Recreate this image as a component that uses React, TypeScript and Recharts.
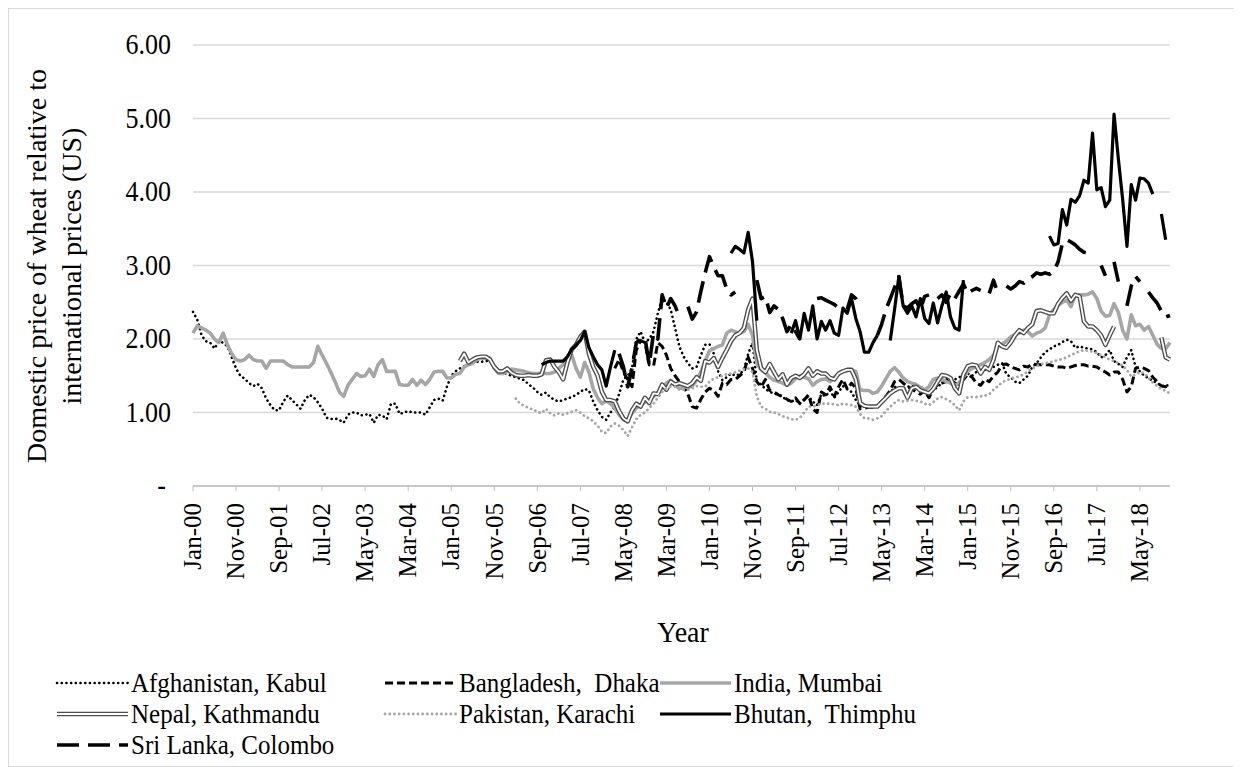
import React from 'react';
import { LineChart, Line, XAxis, YAxis, CartesianGrid } from 'recharts';

const n = null;
const MONTHS = ['Jan', 'Feb', 'Mar', 'Apr', 'May', 'Jun', 'Jul', 'Aug', 'Sep', 'Oct', 'Nov', 'Dec'];
const YEARS = ['00', '01', '02', '03', '04', '05', '06', '07', '08', '09', '10', '11', '12', '13', '14', '15', '16', '17', '18'];
const categories = YEARS.flatMap((y) => MONTHS.map((m) => `${m}-${y}`));
const yTicks = [0, 1, 2, 3, 4, 5, 6];

const afghanistan = [
  2.37, 2.26, 2.05, 1.97, 1.95, 1.87, 1.97, 1.95, 1.90, 1.75, 1.60, 1.50,
  1.46, 1.40, 1.36, 1.39, 1.33, 1.19, 1.10, 1.03, 1.03, 1.15, 1.23, 1.17,
  1.11, 1.05, 1.17, 1.24, 1.21, 1.14, 1.05, 0.93, 0.91, 0.92, 0.90, 0.86,
  0.97, 1.00, 1.00, 0.96, 0.97, 0.98, 0.86, 0.97, 0.96, 0.91, 1.12, 1.12,
  0.98, 1.00, 1.02, 1.00, 1.00, 1.00, 0.97, 1.07, 1.17, 1.19, 1.16, 1.35,
  1.50, 1.56, 1.60, 1.63, 1.66, 1.68, 1.69, 1.69, 1.70, 1.70, 1.62, 1.58,
  1.55, 1.52, 1.50, 1.48, 1.46, 1.44, 1.38, 1.34, 1.28, 1.24, 1.27, 1.21,
  1.17, 1.15, 1.17, 1.19, 1.21, 1.24, 1.28, 1.32, 1.30, 1.15, 1.03, 0.94,
  0.90, 1.00, 1.08, 1.25, 1.45, 1.50, 1.60, 2.00, 2.10, 1.95, 2.00, 2.10,
  2.35, 2.55, 2.50, 2.40, 2.15, 1.90, 1.76, 1.67, 1.60, 1.62, 1.78, 1.92,
  1.93, 1.80, 1.56, 1.44, 1.48, 1.53, 1.50, 1.52, 1.58, 1.80, 1.95, 1.42,
  1.38, 1.32, 1.28, 1.26, 1.24, 1.21, 1.17, 1.15, 1.17, 1.12, 1.18, 1.22,
  1.15, 1.10, 1.25, 1.22, 1.30, 1.20, 1.28, 1.36, 1.32, 1.28, 1.17, 1.10,
  1.08, 1.08, 1.08, 1.08, 1.15, 1.22, 1.26, 1.35, 1.33, 1.32, 1.35, 1.36,
  1.36, 1.36, 1.30, 1.25, 1.30, 1.35, 1.40, 1.45, 1.47, 1.45, 1.48, 1.50,
  1.53, 1.50, 1.55, 1.58, 1.58, 1.60, 1.62, 1.65, 1.67, 1.52, 1.48, 1.42,
  1.40, 1.45, 1.50, 1.62, 1.67, 1.75, 1.82, 1.86, 1.90, 1.92, 1.96, 1.99,
  1.97, 1.88, 1.90, 1.88, 1.87, 1.86, 1.82, 1.75, 1.78, 1.85, 1.70, 1.66,
  1.62, 1.75, 1.85, 1.62, 1.56, 1.50, 1.47, 1.43, 1.40, 1.37, 1.35, 1.40,
];

const bangladesh = [
  n, n, n, n, n, n, n, n, n, n, n, n,
  n, n, n, n, n, n, n, n, n, n, n, n,
  n, n, n, n, n, n, n, n, n, n, n, n,
  n, n, n, n, n, n, n, n, n, n, n, n,
  n, n, n, n, n, n, n, n, n, n, n, n,
  n, n, n, n, n, n, n, n, n, n, n, n,
  n, n, n, n, n, n, n, n, n, n, n, n,
  n, n, n, n, n, n, n, n, n, n, n, n,
  n, n, 1.60, 1.72, 1.55, 1.45, 1.35, 1.85, 1.98, 1.95, 1.65, 1.63,
  1.95, 1.90, 1.78, 1.60, 1.50, 1.42, 1.35, 1.25, 1.08, 1.06, 1.18, 1.28,
  1.33, 1.30, 1.22, 1.40, 1.38, 1.45, 1.45, 1.50, 1.55, 1.75, 1.60, 1.42,
  1.35, 1.45, 1.30, 1.28, 1.24, 1.22, 1.18, 1.15, 1.20, 1.12, 1.17, 1.24,
  1.05, 1.00, 1.28, 1.24, 1.35, 1.22, 1.35, 1.45, 1.32, 1.40, 1.33, 1.05,
  1.06, 1.07, 1.07, 1.08, 1.15, 1.22, 1.30, 1.42, 1.45, 1.40, 1.35, 1.32,
  1.28, 1.25, 1.30, 1.20, 1.32, 1.38, 1.40, 1.42, 1.45, 1.40, 1.38, 1.45,
  1.52, 1.48, 1.40, 1.37, 1.45, 1.42, 1.50, 1.55, 1.65, 1.66, 1.62, 1.60,
  1.58, 1.63, 1.62, 1.66, 1.65, 1.65, 1.65, 1.65, 1.63, 1.62, 1.62, 1.60,
  1.62, 1.64, 1.65, 1.65, 1.63, 1.63, 1.62, 1.58, 1.55, 1.51, 1.55, 1.55,
  1.45, 1.28, 1.35, 1.60, 1.62, 1.60, 1.57, 1.48, 1.42, 1.36, 1.35, 1.38,
];

const india = [
  2.08, 2.18, 2.15, 2.12, 2.08, 2.00, 1.95, 2.08, 1.92, 1.80, 1.72, 1.70,
  1.72, 1.78, 1.72, 1.70, 1.70, 1.60, 1.70, 1.70, 1.70, 1.70, 1.65, 1.62,
  1.62, 1.62, 1.62, 1.62, 1.68, 1.90, 1.78, 1.67, 1.55, 1.42, 1.28, 1.22,
  1.37, 1.45, 1.53, 1.49, 1.50, 1.59, 1.49, 1.65, 1.72, 1.56, 1.56, 1.56,
  1.38, 1.37, 1.37, 1.45, 1.37, 1.44, 1.38, 1.45, 1.55, 1.56, 1.56, 1.47,
  1.47, 1.52, 1.53, 1.62, 1.65, 1.67, 1.72, 1.74, 1.74, 1.74, 1.60, 1.53,
  1.53, 1.56, 1.59, 1.58, 1.57, 1.56, 1.54, 1.53, 1.53, 1.53, 1.53, 1.53,
  1.55, 1.60, 1.65, 1.72, 1.78, 1.60, 1.48, 1.68, 1.55, 1.32, 1.20, 1.12,
  1.16, 1.12, 1.06, 0.97, 0.90, 0.90, 0.99, 1.06, 1.10, 1.14, 1.17, 1.22,
  1.27, 1.34, 1.40, 1.44, 1.38, 1.32, 1.35, 1.34, 1.36, 1.44, 1.55, 1.70,
  1.84, 1.87, 1.90, 1.92, 2.08, 2.12, 2.10, 2.08, 2.10, 2.20, 2.05, 1.67,
  1.58, 1.54, 1.48, 1.44, 1.42, 1.40, 1.37, 1.40, 1.46, 1.50, 1.48, 1.46,
  1.37, 1.42, 1.45, 1.46, 1.42, 1.48, 1.52, 1.56, 1.57, 1.58, 1.56, 1.31,
  1.30, 1.30, 1.26, 1.28, 1.36, 1.46, 1.56, 1.61, 1.55, 1.47, 1.42, 1.40,
  1.38, 1.34, 1.31, 1.35, 1.45, 1.47, 1.45, 1.42, 1.40, 1.37, 1.40, 1.48,
  1.56, 1.60, 1.62, 1.65, 1.68, 1.72, 1.78, 1.90, 1.93, 1.97, 2.03, 2.06,
  2.08, 2.12, 2.10, 2.04, 2.08, 2.10, 2.15, 2.33, 2.40, 2.46, 2.50, 2.53,
  2.44, 2.60, 2.60, 2.60, 2.61, 2.64, 2.55, 2.38, 2.31, 2.32, 2.48, 2.36,
  2.12, 2.00, 2.33, 2.18, 2.20, 2.12, 2.17, 2.05, 1.93, 1.87, 1.87, 1.95,
];

const nepal = [
  n, n, n, n, n, n, n, n, n, n, n, n,
  n, n, n, n, n, n, n, n, n, n, n, n,
  n, n, n, n, n, n, n, n, n, n, n, n,
  n, n, n, n, n, n, n, n, n, n, n, n,
  n, n, n, n, n, n, n, n, n, n, n, n,
  n, n, 1.70, 1.80, 1.68, 1.72, 1.75, 1.76, 1.76, 1.72, 1.62, 1.56,
  1.56, 1.60, 1.54, 1.51, 1.50, 1.50, 1.51, 1.50, 1.50, 1.52, 1.71, 1.72,
  1.62, 1.55, 1.45, 1.68, 1.86, 1.92, 2.03, 2.10, 1.80, 1.62, 1.50, 1.28,
  1.17, 1.17, 1.15, 1.02, 0.92, 0.88, 1.03, 1.12, 1.08, 1.20, 1.13, 1.26,
  1.25, 1.38, 1.31, 1.42, 1.38, 1.40, 1.38, 1.36, 1.40, 1.48, 1.43, 1.70,
  1.68, 1.74, 1.62, 1.74, 1.85, 1.97, 2.05, 2.08, 2.15, 2.40, 2.55, 1.85,
  1.60, 1.55, 1.66, 1.55, 1.45, 1.52, 1.38, 1.47, 1.50, 1.47, 1.52, 1.60,
  1.50, 1.56, 1.53, 1.53, 1.47, 1.45, 1.53, 1.56, 1.58, 1.58, 1.45, 1.13,
  1.09, 1.08, 1.08, 1.08, 1.14, 1.20, 1.26, 1.30, 1.33, 1.33, 1.20, 1.33,
  1.35, 1.30, 1.28, 1.26, 1.32, 1.42, 1.51, 1.50, 1.47, 1.33, 1.26, 1.52,
  1.63, 1.65, 1.64, 1.53, 1.62, 1.58, 1.72, 1.95, 1.90, 1.88, 1.95, 2.05,
  2.12, 2.08, 2.15, 2.20, 2.38, 2.39, 2.37, 2.35, 2.35, 2.48, 2.56, 2.62,
  2.52, 2.60, 2.58, 2.24, 2.17, 2.17, 2.12, 2.05, 1.92, 2.05, 2.17, n,
  n, n, n, n, n, n, n, n, n, 2.02, 1.75, 1.72,
];

const pakistan = [
  n, n, n, n, n, n, n, n, n, n, n, n,
  n, n, n, n, n, n, n, n, n, n, n, n,
  n, n, n, n, n, n, n, n, n, n, n, n,
  n, n, n, n, n, n, n, n, n, n, n, n,
  n, n, n, n, n, n, n, n, n, n, n, n,
  n, n, n, n, n, n, n, n, n, n, n, n,
  n, n, n, 1.19, 1.12, 1.09, 1.06, 1.04, 1.01, 0.99, 1.05, 0.99,
  0.96, 0.99, 0.97, 0.99, 1.01, 1.03, 1.00, 0.95, 0.92, 0.88, 0.82, 0.74,
  0.72, 0.81, 0.85, 0.82, 0.76, 0.68, 0.80, 0.91, 0.97, 1.00, 1.06, 1.12,
  1.20, 1.28, 1.33, 1.35, 1.35, 1.33, 1.31, 1.31, 1.33, 1.36, 1.35, 1.35,
  1.42, 1.46, 1.48, 1.50, 1.52, 1.53, 1.55, 1.57, 1.59, 1.60, 1.55, 1.22,
  1.08, 1.05, 1.01, 1.00, 0.98, 0.95, 0.93, 0.91, 0.90, 0.93, 1.00, 1.08,
  1.08, 1.10, 1.12, 1.12, 1.12, 1.11, 1.10, 1.12, 1.11, 1.10, 1.08, 0.98,
  0.92, 0.92, 0.90, 0.92, 0.95, 1.02, 1.08, 1.13, 1.17, 1.15, 1.16, 1.17,
  1.16, 1.15, 1.12, 1.10, 1.14, 1.19, 1.21, 1.18, 1.15, 1.10, 1.03, 1.15,
  1.21, 1.21, 1.21, 1.22, 1.23, 1.25, 1.31, 1.36, 1.41, 1.44, 1.46, 1.48,
  1.49, 1.52, 1.56, 1.60, 1.63, 1.66, 1.67, 1.68, 1.70, 1.71, 1.73, 1.75,
  1.78, 1.81, 1.83, 1.85, 1.84, 1.83, 1.81, 1.78, 1.75, 1.72, 1.70, 1.67,
  1.64, 1.58, 1.49, 1.52, 1.55, 1.54, 1.47, 1.41, 1.36, 1.32, 1.29, 1.26,
];

const bhutan = [
  n, n, n, n, n, n, n, n, n, n, n, n,
  n, n, n, n, n, n, n, n, n, n, n, n,
  n, n, n, n, n, n, n, n, n, n, n, n,
  n, n, n, n, n, n, n, n, n, n, n, n,
  n, n, n, n, n, n, n, n, n, n, n, n,
  n, n, n, n, n, n, n, n, n, n, n, n,
  n, n, n, n, n, n, n, n, n, 1.65, 1.68, 1.70,
  1.70, 1.70, 1.70, 1.76, 1.86, 1.92, 1.98, 2.10, 1.88, 1.76, 1.65, 1.58,
  1.36, 1.62, 1.85, n, n, n, n, n, n, n, n, n,
  n, n, n, n, n, n, n, n, n, n, n, n,
  n, n, n, n, n, 3.17, 3.26, 3.22, 3.17, 3.45, 3.05, 2.25,
  n, n, n, n, n, n, n, 2.08, 2.25, 2.00, 2.35, 2.12,
  2.45, 2.00, 2.24, 2.12, 2.25, 2.08, 2.05, 2.42, 2.35, 2.55, 2.28, 2.10,
  1.82, 1.82, 1.95, 2.05, n, n, 1.98, 2.40, 2.85, 2.45, 2.35, 2.45,
  2.30, 2.55, 2.28, 2.21, 2.49, 2.22, 2.45, 2.64, 2.30, 2.15, 2.12, 2.80,
  n, n, n, n, n, n, n, n, n, n, n, n,
  n, n, n, n, n, n, n, 3.40, 3.28, 3.30, 3.76, 3.55,
  3.90, 3.86, 3.95, 4.16, 4.12, 4.80, 4.03, 4.06, 3.80, 3.89, 5.06, 4.45,
  3.90, 3.26, 4.10, 3.89, 4.19, 4.18, 4.12, 3.97, n, 3.70, 3.35, n,
];

const sriLanka = [
  n, n, n, n, n, n, n, n, n, n, n, n,
  n, n, n, n, n, n, n, n, n, n, n, n,
  n, n, n, n, n, n, n, n, n, n, n, n,
  n, n, n, n, n, n, n, n, n, n, n, n,
  n, n, n, n, n, n, n, n, n, n, n, n,
  n, n, n, n, n, n, n, n, n, n, n, n,
  n, n, n, n, n, n, n, n, n, n, n, n,
  n, n, n, n, n, n, n, n, n, n, n, n,
  n, n, n, 1.80, 1.62, 1.35, 1.60, 1.95, 2.00, 2.02, 1.65, 2.08,
  2.00, 2.60, 2.42, 2.55, 2.45, 2.30, n, 2.44, 2.27, 2.37, 2.65, 2.90,
  3.12, 2.98, 2.86, 2.86, 2.68, 2.60, 2.64, n, n, n, n, 2.80,
  2.55, 2.58, 2.36, 2.45, 2.40, 2.28, 2.10, 2.20, 2.10, 2.00, n, n,
  n, 2.55, 2.56, 2.53, 2.50, 2.47, 2.42, n, 2.40, 2.60, 2.55, 2.45,
  n, n, n, 2.05, 2.20, 2.40, 2.55, 2.70, 2.85, 2.45, 2.42, 2.48,
  2.52, 2.40, 2.58, 2.60, n, 2.55, 2.60, 2.50, 2.62, 2.55, 2.65, 2.75,
  2.62, 2.66, 2.69, 2.66, n, 2.62, 2.80, 2.62, n, 2.72, 2.68, 2.72,
  2.78, 2.76, 2.82, 2.85, 2.90, 2.88, 2.90, 2.88, 2.92, 3.05, 3.30, 3.35,
  3.32, 3.28, 3.22, 3.18, 3.17, 3.17, n, 3.00, 2.86, n, 3.05, 2.78,
  n, 2.45, 2.72, 2.85, 2.78, n, 2.64, 2.56, 2.49, 2.38, 2.30, 2.32,
];

const data = categories.map((label, i) => ({
  label,
  afg: afghanistan[i],
  ban: bangladesh[i],
  ind: india[i],
  nep: nepal[i],
  nepInner: nepal[i],
  pak: pakistan[i],
  bhu: bhutan[i],
  sri: sriLanka[i],
}));

const FONT = "'Liberation Serif', 'Times New Roman', Times, serif";
const GRAY = '#a6a6a6';

const XTick = (props: any) => {
  const { x, y, payload } = props;
  return (
    <text
      transform={`translate(${x},${y + 10}) rotate(-90)`}
      textAnchor="end"
      dy="0.33em"
      fontFamily={FONT}
      fontSize={25}
      fill="#000"
    >
      {payload.value}
    </text>
  );
};

const YTick = (props: any) => {
  const { x, y, payload } = props;
  const v = Number(payload.value);
  return (
    <text
      transform={`translate(${v === 0 ? x - 5 : x},${y}) scale(1,1.1)`}
      dy="0.33em"
      textAnchor="end"
      fontFamily={FONT}
      fontSize={26}
      fill="#000"
    >
      {v === 0 ? '-' : v.toFixed(2)}
    </text>
  );
};

type Item = { name: string; kind: string; col: number; row: number };
const legendItems: Item[] = [
  { name: 'Afghanistan, Kabul', kind: 'afg', col: 0, row: 0 },
  { name: 'Bangladesh,  Dhaka', kind: 'ban', col: 1, row: 0 },
  { name: 'India, Mumbai', kind: 'ind', col: 2, row: 0 },
  { name: 'Nepal, Kathmandu', kind: 'nep', col: 0, row: 1 },
  { name: 'Pakistan, Karachi', kind: 'pak', col: 1, row: 1 },
  { name: 'Bhutan,  Thimphu', kind: 'bhu', col: 2, row: 1 },
  { name: 'Sri Lanka, Colombo', kind: 'sri', col: 0, row: 2 },
];
const colX = [49, 377, 652];
const rowY = [675, 706, 737];

const Sample = ({ kind, x1, x2, y }: { kind: string; x1: number; x2: number; y: number }) => {
  switch (kind) {
    case 'afg':
      return <line x1={x1} x2={x2} y1={y} y2={y} stroke="#000" strokeWidth={2.6} strokeDasharray="0.1 4.6" strokeLinecap="round" />;
    case 'ban':
      return <line x1={x1} x2={x2} y1={y} y2={y} stroke="#000" strokeWidth={3} strokeDasharray="8 4" />;
    case 'ind':
      return <line x1={x1} x2={x2} y1={y} y2={y} stroke={GRAY} strokeWidth={3.6} />;
    case 'nep':
      return (
        <g>
          <line x1={x1} x2={x2} y1={y} y2={y} stroke="#4d4d4d" strokeWidth={4.5} />
          <line x1={x1} x2={x2} y1={y} y2={y} stroke="#fff" strokeWidth={1.8} />
        </g>
      );
    case 'pak':
      return <line x1={x1} x2={x2} y1={y} y2={y} stroke={GRAY} strokeWidth={2.8} strokeDasharray="0.1 4.6" strokeLinecap="round" />;
    case 'bhu':
      return <line x1={x1} x2={x2} y1={y} y2={y} stroke="#000" strokeWidth={3.2} />;
    default:
      return <line x1={x1} x2={x2} y1={y} y2={y} stroke="#000" strokeWidth={3.6} strokeDasharray="22 9" />;
  }
};

export default function App() {
  return (
    <div style={{ position: 'relative', width: 1234, height: 759 }}>
      <LineChart width={1234} height={759} data={data} margin={{ top: 37, right: 72, left: 125, bottom: 221 }}>
        <CartesianGrid horizontal={true} vertical={false} stroke="#d9d9d9" strokeWidth={1.3} />
        <XAxis
          dataKey="label"
          type="category"
          interval={9}
          height={60}
          tick={<XTick />}
          tickSize={5}
          tickMargin={2}
          tickLine={{ stroke: '#bfbfbf' }}
          axisLine={{ stroke: '#bfbfbf', strokeWidth: 1.3 }}
        />
        <YAxis
          width={60}
          domain={[0, 6]}
          ticks={yTicks}
          type="number"
          tick={<YTick />}
          tickLine={false}
          axisLine={false}
          tickSize={0}
          tickMargin={22}
          interval={0}
        />
        <Line dataKey="afg" stroke="#000" strokeWidth={2.6} strokeDasharray="0.1 4.6" strokeLinecap="round" strokeLinejoin="round" dot={false} activeDot={false} isAnimationActive={false} />
        <Line dataKey="ban" stroke="#000" strokeWidth={3} strokeDasharray="8 4" strokeLinejoin="round" dot={false} activeDot={false} isAnimationActive={false} />
        <Line dataKey="ind" stroke={GRAY} strokeWidth={3.6} strokeLinejoin="round" dot={false} activeDot={false} isAnimationActive={false} />
        <Line dataKey="nep" stroke="#4d4d4d" strokeWidth={4.5} strokeLinejoin="round" dot={false} activeDot={false} isAnimationActive={false} />
        <Line dataKey="nepInner" stroke="#ffffff" strokeWidth={1.8} strokeLinejoin="round" dot={false} activeDot={false} isAnimationActive={false} />
        <Line dataKey="pak" stroke={GRAY} strokeWidth={2.8} strokeDasharray="0.1 4.6" strokeLinecap="round" strokeLinejoin="round" dot={false} activeDot={false} isAnimationActive={false} />
        <Line dataKey="bhu" stroke="#000" strokeWidth={3.2} strokeLinejoin="round" dot={false} activeDot={false} isAnimationActive={false} />
        <Line dataKey="sri" stroke="#000" strokeWidth={3.6} strokeDasharray="22 9" strokeLinejoin="round" dot={false} activeDot={false} isAnimationActive={false} />
      </LineChart>
      <svg width={1234} height={759} style={{ position: 'absolute', left: 0, top: 0, pointerEvents: 'none' }}>
        <rect x={0.5} y={0.5} width={1233} height={758} fill="none" stroke="#d9d9d9" strokeWidth={1} />
        <text transform="translate(29,258) rotate(-90)" textAnchor="middle" dy="0.33em" fontFamily={FONT} fontSize={28} fill="#000">
          Domestic price of wheat relative to
        </text>
        <text transform="translate(64,258) rotate(-90)" textAnchor="middle" dy="0.33em" fontFamily={FONT} fontSize={28} fill="#000">
          international prices (US)
        </text>
        <text transform="translate(675,634) scale(1,1.08)" textAnchor="middle" fontFamily={FONT} fontSize={28} fill="#000">
          Year
        </text>
        {legendItems.map((it) => {
          const x1 = colX[it.col];
          const y = rowY[it.row];
          return (
            <g key={it.name}>
              <Sample kind={it.kind} x1={x1} x2={x1 + 71} y={y} />
              <text
                transform={`translate(${x1 + 74},${y}) scale(1,1.12)`}
                dy="0.33em"
                fontFamily={FONT}
                fontSize={25}
                fill="#000"
                style={{ whiteSpace: 'pre' }}
              >
                {it.name}
              </text>
            </g>
          );
        })}
      </svg>
    </div>
  );
}
